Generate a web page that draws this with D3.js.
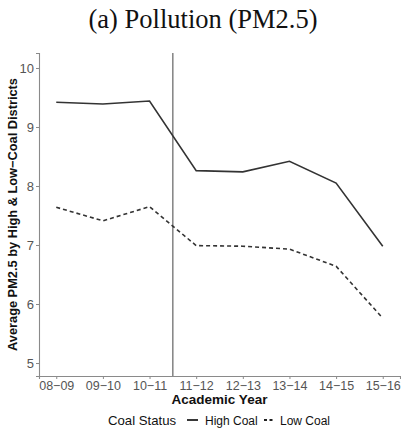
<!DOCTYPE html>
<html>
<head>
<meta charset="utf-8">
<script src="https://cdn.jsdelivr.net/npm/d3@7"></script>
<style>
  html, body { margin: 0; padding: 0; background: #fff; }
  svg { display: block; }
</style>
</head>
<body>
<svg id="chart" width="401" height="430"></svg>
<script>
const years = ["08−09", "09−10", "10−11", "11−12", "12−13", "13−14", "14−15", "15−16"];
const highCoal = [9.42, 9.39, 9.44, 8.26, 8.24, 8.42, 8.05, 6.98];
const lowCoal = [7.64, 7.41, 7.65, 6.99, 6.98, 6.93, 6.64, 5.76];
const yTicks = [5, 6, 7, 8, 9, 10];
const policyBreak = 2.5; // between 10-11 and 11-12

const svg = d3.select("#chart");
const margin = { left: 39, right: 1, top: 53, bottom: 54 };
const width = +svg.attr("width");
const height = +svg.attr("height");

const x = d3.scalePoint()
  .domain(d3.range(years.length))
  .range([margin.left, width - margin.right])
  .padding(0.37);

const y = d3.scaleLinear()
  .domain([4.78, 10.254])
  .range([height - margin.bottom, margin.top]);

const axisColor = "#8a8a8a";
const textColor = "#555";
const sans = "'Liberation Sans', Arial, sans-serif";

// title
svg.append("text")
  .attr("x", 203)
  .attr("y", 28)
  .attr("text-anchor", "middle")
  .attr("font-family", "'Liberation Serif', 'DejaVu Serif', serif")
  .attr("font-size", "26.5px")
  .attr("fill", "#111")
  .text("(a) Pollution (PM2.5)");

// y axis
const yAxis = svg.append("g")
  .attr("transform", `translate(${margin.left},0)`)
  .call(d3.axisLeft(y).tickValues(yTicks).tickSize(3).tickPadding(2).tickFormat(d3.format("d")));
yAxis.select(".domain").attr("stroke", axisColor).attr("stroke-width", 1.1);
yAxis.selectAll(".tick line").attr("stroke", axisColor);
yAxis.selectAll(".tick text")
  .attr("fill", textColor)
  .attr("font-family", sans)
  .attr("font-size", "13px");

// x axis
const xAxis = svg.append("g")
  .attr("transform", `translate(0,${height - margin.bottom})`)
  .call(d3.axisBottom(x).tickSize(3).tickPadding(2).tickFormat(i => years[i]));
xAxis.select(".domain").attr("stroke", axisColor).attr("stroke-width", 1.1);
xAxis.selectAll(".tick line").attr("stroke", axisColor);
xAxis.selectAll(".tick text")
  .attr("fill", textColor)
  .attr("font-family", sans)
  .attr("font-size", "12.5px");

// axis titles
svg.append("text")
  .attr("x", (margin.left + width - margin.right) / 2)
  .attr("y", 404)
  .attr("text-anchor", "middle")
  .attr("font-family", sans)
  .attr("font-weight", "bold")
  .attr("font-size", "13.5px")
  .attr("fill", "#111")
  .text("Academic Year");

svg.append("text")
  .attr("transform", `translate(17,${(margin.top + height - margin.bottom) / 2}) rotate(-90)`)
  .attr("text-anchor", "middle")
  .attr("font-family", sans)
  .attr("font-weight", "bold")
  .attr("font-size", "12.8px")
  .attr("fill", "#111")
  .text("Average PM2.5 by High & Low−Coal Districts");

// policy break line
const step = x.step();
svg.append("line")
  .attr("x1", x(2) + step * (policyBreak - 2))
  .attr("x2", x(2) + step * (policyBreak - 2))
  .attr("y1", y.range()[1])
  .attr("y2", y.range()[0])
  .attr("stroke", "#555")
  .attr("stroke-width", 1.1);

// series lines
const line = d3.line()
  .x((d, i) => x(i))
  .y(d => y(d));

svg.append("path")
  .datum(highCoal)
  .attr("d", line)
  .attr("fill", "none")
  .attr("stroke", "#333")
  .attr("stroke-width", 1.6);

svg.append("path")
  .datum(lowCoal)
  .attr("d", line)
  .attr("fill", "none")
  .attr("stroke", "#333")
  .attr("stroke-width", 1.6)
  .attr("stroke-dasharray", "4,3");

// legend
const legend = svg.append("g").attr("font-family", sans);
legend.append("text")
  .attr("x", 108).attr("y", 424.5)
  .attr("font-size", "13.2px").attr("fill", "#111")
  .text("Coal Status");
legend.append("line")
  .attr("x1", 187).attr("x2", 198).attr("y1", 420).attr("y2", 420)
  .attr("stroke", "#222").attr("stroke-width", 1.8);
legend.append("text")
  .attr("x", 205).attr("y", 424.5)
  .attr("font-size", "12px").attr("fill", "#111")
  .text("High Coal");
legend.append("line")
  .attr("x1", 264).attr("x2", 275).attr("y1", 420).attr("y2", 420)
  .attr("stroke", "#222").attr("stroke-width", 1.8)
  .attr("stroke-dasharray", "3,2.5");
legend.append("text")
  .attr("x", 280).attr("y", 424.5)
  .attr("font-size", "12px").attr("fill", "#111")
  .text("Low Coal");
</script>
</body>
</html>
